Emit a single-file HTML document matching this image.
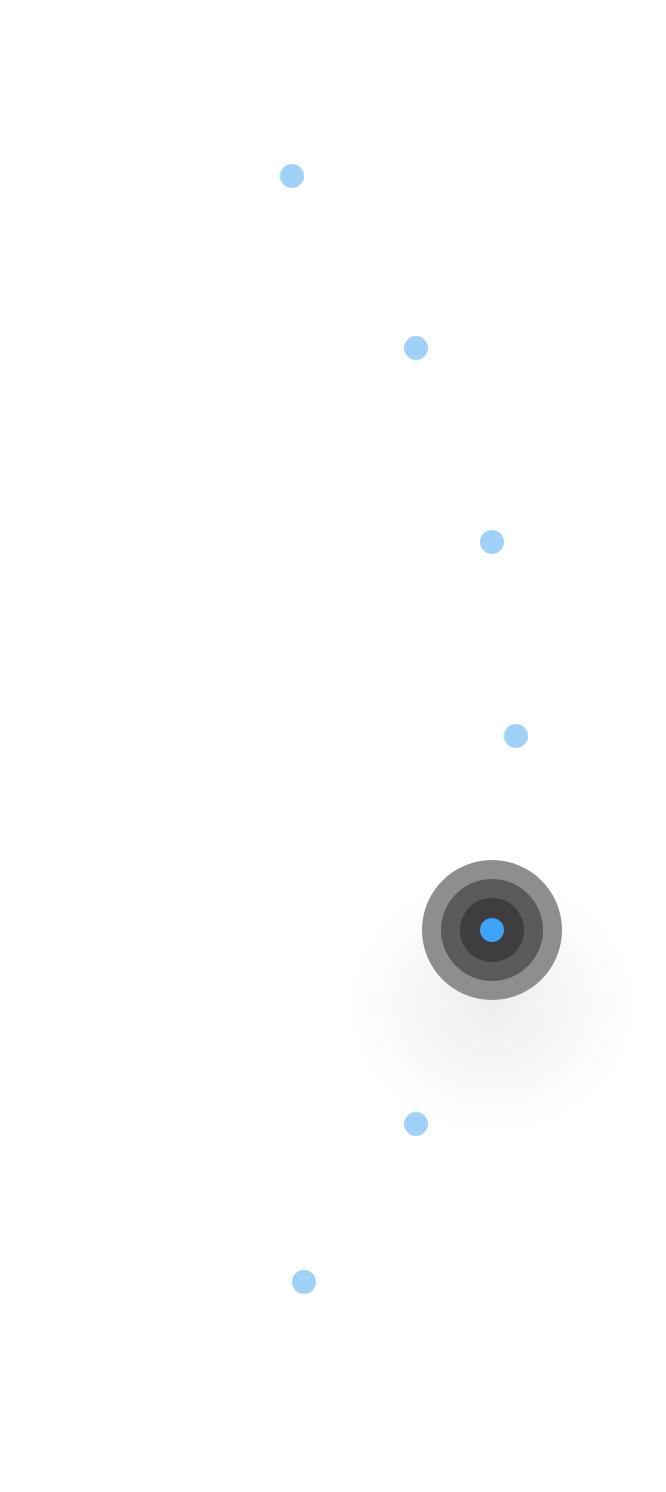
<!DOCTYPE html>
<html><head><meta charset="utf-8"><style>
html,body{margin:0;padding:0;background:#fff;width:666px;height:1492px;overflow:hidden}
</style></head><body>
<svg width="666" height="1492" xmlns="http://www.w3.org/2000/svg">
<defs>
<radialGradient id="sh" cx="0.5" cy="0.5" r="0.5">
<stop offset="0" stop-color="#000" stop-opacity="0.065"/>
<stop offset="0.5" stop-color="#000" stop-opacity="0.035"/>
<stop offset="0.8" stop-color="#000" stop-opacity="0.012"/>
<stop offset="1" stop-color="#000" stop-opacity="0"/>
</radialGradient>
</defs>
<ellipse cx="492" cy="1005" rx="145" ry="130" fill="url(#sh)"/>
<g fill="#9fd2fb">
<circle cx="292" cy="176" r="12"/>
<circle cx="416" cy="348" r="12"/>
<circle cx="492" cy="542" r="12"/>
<circle cx="516" cy="736" r="12"/>
<circle cx="416" cy="1124" r="12"/>
<circle cx="304" cy="1282" r="12"/>
</g>
<circle cx="492" cy="930" r="70" fill="#8e8e8e"/>
<circle cx="492" cy="930" r="51" fill="#5a5a5a"/>
<circle cx="492" cy="930" r="32" fill="#3e3e3e"/>
<circle cx="492" cy="930" r="12" fill="#3ba3f8"/>
</svg>
</body></html>
